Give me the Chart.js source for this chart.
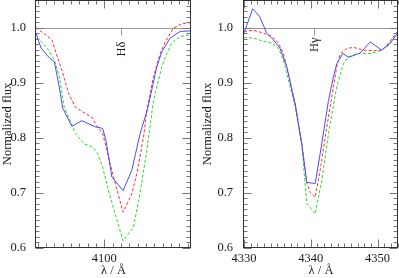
<!DOCTYPE html>
<html>
<head>
<meta charset="utf-8">
<script src="https://cdn.jsdelivr.net/npm/chart.js@4/dist/chart.umd.min.js"></script>
<style>
  html, body { margin: 0; padding: 0; background: #fff; }
  #wrap { position: relative; width: 399px; height: 278px; overflow: hidden; }
  canvas { position: absolute; top: 0; display: block; }
</style>
</head>
<body>
<div id="wrap">
  <canvas id="hdelta" width="200" height="278" style="left:0"></canvas>
  <canvas id="hgamma" width="199" height="278" style="left:200px"></canvas>
</div>
<script>
// H-delta panel, three model/observed profiles (wavelength in A, normalized flux)
const lamDeltaBlue = [4091.8, 4092.4, 4093.4, 4094.0, 4094.6, 4095.0, 4096.1, 4097.3, 4098.9, 4099.8, 4100.2, 4100.9, 4102.25, 4103.3, 4104.3, 4105.2, 4106.3, 4106.9, 4107.9, 4109.1, 4110.4];
const fluxDeltaBlue = [0.990, 0.963, 0.945, 0.938, 0.892, 0.854, 0.821, 0.831, 0.820, 0.817, 0.795, 0.729, 0.704, 0.741, 0.808, 0.853, 0.929, 0.956, 0.981, 0.993, 0.994];

const lamDeltaRed = [4091.8, 4093.7, 4094.1, 4094.9, 4095.7, 4096.5, 4097.6, 4098.6, 4099.0, 4099.8, 4100.3, 4101.1, 4102.25, 4103.3, 4103.9, 4104.7, 4105.1, 4105.9, 4106.7, 4107.3, 4108.3, 4109.3, 4110.4];
const fluxDeltaRed = [1.000, 0.978, 0.959, 0.923, 0.881, 0.856, 0.845, 0.836, 0.823, 0.808, 0.777, 0.729, 0.665, 0.698, 0.735, 0.801, 0.850, 0.911, 0.953, 0.974, 0.999, 1.007, 1.009];

const lamDeltaGreen = [4091.8, 4092.4, 4092.8, 4093.4, 4094.0, 4094.6, 4095.2, 4095.9, 4096.5, 4097.6, 4098.6, 4099.2, 4099.8, 4100.4, 4101.1, 4102.25, 4103.5, 4104.3, 4105.1, 4105.9, 4106.9, 4107.5, 4108.1, 4109.1, 4110.4];
const fluxDeltaGreen = [0.980, 0.975, 0.969, 0.957, 0.941, 0.911, 0.854, 0.832, 0.808, 0.789, 0.783, 0.771, 0.747, 0.710, 0.672, 0.613, 0.638, 0.701, 0.777, 0.868, 0.929, 0.953, 0.972, 0.984, 0.987];

// H-gamma panel
const lamGammaBlue = [4330.0, 4331.3, 4332.35, 4333.4, 4334.4, 4335.4, 4336.4, 4337.15, 4337.65, 4338.65, 4339.4, 4340.65, 4341.4, 4342.65, 4343.4, 4343.9, 4344.8, 4345.65, 4347.4, 4348.9, 4350.6, 4351.9, 4353.0];
const fluxGammaBlue = [0.990, 1.034, 1.020, 0.990, 0.978, 0.962, 0.929, 0.887, 0.862, 0.789, 0.719, 0.717, 0.771, 0.868, 0.911, 0.935, 0.953, 0.946, 0.954, 0.974, 0.959, 0.972, 0.990];

const lamGammaRed = [4330.0, 4331.4, 4332.9, 4334.15, 4335.15, 4335.9, 4336.65, 4337.65, 4338.65, 4339.4, 4339.9, 4340.65, 4341.4, 4342.4, 4343.4, 4343.9, 4344.4, 4345.4, 4346.4, 4347.9, 4349.4, 4350.65, 4351.65, 4353.0];
const fluxGammaRed = [0.993, 0.995, 0.990, 0.984, 0.972, 0.953, 0.917, 0.862, 0.789, 0.717, 0.701, 0.692, 0.741, 0.820, 0.893, 0.930, 0.952, 0.962, 0.964, 0.959, 0.958, 0.959, 0.972, 0.993];

const lamGammaGreen = [4330.0, 4331.4, 4332.9, 4334.15, 4335.15, 4335.9, 4336.65, 4337.65, 4338.65, 4339.4, 4340.65, 4341.65, 4342.65, 4343.9, 4344.9, 4345.65, 4347.15, 4348.9, 4350.4, 4351.65, 4353.0];
const fluxGammaGreen = [0.982, 0.981, 0.975, 0.972, 0.962, 0.941, 0.905, 0.857, 0.786, 0.681, 0.662, 0.723, 0.808, 0.894, 0.935, 0.947, 0.953, 0.953, 0.958, 0.967, 0.990];

// axis ticks and line markers
const yTicks = [0.6, 0.7, 0.8, 0.9, 1.0];
const xTicksDelta = [4100];
const xTicksGamma = [4330, 4340, 4350];
const markDelta = 4102.0;
const markGamma = 4340.5;

const FONT = "'Liberation Serif', 'Times New Roman', serif";
const TEXT = '#1a1a1a';
Chart.defaults.font.family = FONT;
Chart.defaults.font.size = 12.5;
Chart.defaults.color = TEXT;

function series(lam, flux, color, dashed) {
    return {
        data: lam.map((x, i) => ({ x: x, y: flux[i] })),
        borderColor: color,
        borderWidth: 1,
        borderDash: dashed ? [3, 2] : [],
        pointRadius: 0,
        tension: 0,
        fill: false
    };
}

// frame, inward ticks on all sides, continuum line and the line marker
const panelDecor = {
    id: 'panelDecor',
    beforeDatasetsDraw(chart, args, opts) {
        const { ctx, chartArea: a, scales: { x, y } } = chart;
        const y1 = Math.round(y.getPixelForValue(1.0)) + 0.5;
        ctx.save();
        ctx.strokeStyle = '#999';
        ctx.lineWidth = 1;
        ctx.beginPath();
        ctx.moveTo(a.left, y1);
        ctx.lineTo(a.right, y1);
        const mx = Math.round(x.getPixelForValue(opts.line)) + 0.5;
        ctx.moveTo(mx, y1);
        ctx.lineTo(mx, y1 + 7);
        ctx.stroke();
        ctx.translate(mx, y1 + 7 + opts.gap);
        ctx.rotate(-Math.PI / 2);
        ctx.font = '12.5px ' + FONT;
        ctx.fillStyle = TEXT;
        ctx.textAlign = 'right';
        ctx.textBaseline = 'middle';
        ctx.fillText(opts.label, 0, 0);
        ctx.restore();
    },
    afterDatasetsDraw(chart, args, opts) {
        const { ctx, chartArea: a, scales: { x, y } } = chart;
        const L = Math.round(a.left) - 0.5, R = Math.round(a.right) - 0.5;
        const T = Math.round(a.top) + 0.5, B = Math.round(a.bottom) - 0.5;
        ctx.save();
        ctx.lineWidth = 1;
        ctx.strokeStyle = '#777';
        ctx.beginPath();
        for (let i = Math.ceil(x.min); i <= x.max; i++) {
            const px = Math.round(x.getPixelForValue(i)) + 0.5;
            const len = opts.xMajor.includes(i) ? 8 : 4;
            ctx.moveTo(px, B); ctx.lineTo(px, B - len);
            ctx.moveTo(px, T); ctx.lineTo(px, T + len);
        }
        for (let i = Math.ceil(y.min * 100); i <= y.max * 100 + 1e-6; i++) {
            const py = Math.round(y.getPixelForValue(i / 100)) + 0.5;
            const len = i % 10 === 0 ? 8 : 4;
            ctx.moveTo(L, py); ctx.lineTo(L + len, py);
            ctx.moveTo(R, py); ctx.lineTo(R - len, py);
        }
        ctx.stroke();
        ctx.strokeStyle = '#333';
        ctx.strokeRect(L, T, R - L, B - T);
        ctx.restore();
    }
};

function makePanel(id, datasets, xMin, xMax, xTicks, yAxisWidth, padRight, yLabelPad, decor) {
    return new Chart(document.getElementById(id), {
        type: 'line',
        data: { datasets: datasets },
        options: {
            responsive: false,
            animation: false,
            events: [],
            layout: { padding: { top: 0, right: padRight, bottom: 0, left: 0 } },
            plugins: {
                legend: { display: false },
                tooltip: { enabled: false },
                panelDecor: decor
            },
            scales: {
                x: {
                    type: 'linear',
                    min: xMin,
                    max: xMax,
                    grid: { display: false, drawTicks: false },
                    border: { display: false },
                    afterBuildTicks: s => { s.ticks = xTicks.map(v => ({ value: v })); },
                    afterFit: s => { s.height = 30; s.paddingLeft = 0; s.paddingRight = 0; },
                    ticks: { padding: 3, autoSkip: false, maxRotation: 0, callback: v => String(v) },
                    title: { display: true, text: 'λ / Å', padding: 0 }
                },
                y: {
                    type: 'linear',
                    min: 0.6,
                    max: 1.05,
                    grid: { display: false, drawTicks: false },
                    border: { display: false },
                    afterBuildTicks: s => { s.ticks = yTicks.map(v => ({ value: v })); },
                    afterFit: s => { s.width = yAxisWidth; s.paddingTop = 0; s.paddingBottom = 0; },
                    ticks: { padding: yLabelPad, autoSkip: false, callback: v => v.toFixed(1) },
                    title: { display: true, text: 'Normalized flux', padding: { top: 0.5, bottom: 0 } }
                }
            }
        },
        plugins: [panelDecor]
    });
}

makePanel('hdelta', [
    series(lamDeltaBlue, fluxDeltaBlue, '#4a4aff', false),
    series(lamDeltaRed, fluxDeltaRed, '#ff2a2a', true),
    series(lamDeltaGreen, fluxDeltaGreen, '#22dd22', true)
], 4091.8, 4110.4, xTicksDelta, 36, 9, 10, { line: markDelta, label: 'Hδ', gap: 6, xMajor: xTicksDelta });

makePanel('hgamma', [
    series(lamGammaBlue, fluxGammaBlue, '#4a4aff', false),
    series(lamGammaRed, fluxGammaRed, '#ff2a2a', true),
    series(lamGammaGreen, fluxGammaGreen, '#22dd22', true)
], 4330, 4353.05, xTicksGamma, 44, 1, 11, { line: markGamma, label: 'Hγ', gap: 2, xMajor: xTicksGamma });
</script>
</body>
</html>
